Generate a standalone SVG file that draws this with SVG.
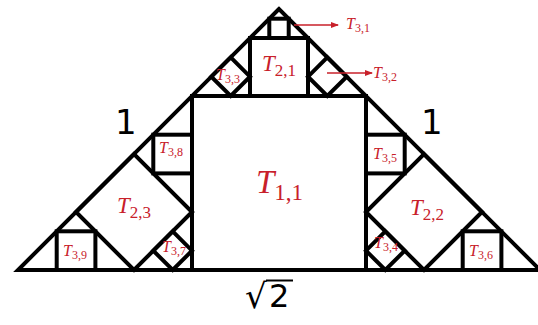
<svg xmlns="http://www.w3.org/2000/svg" width="538" height="325" viewBox="0 0 538 325">
<style>
.sh{fill:none;stroke:#000;stroke-width:4;stroke-linejoin:miter;stroke-miterlimit:10}
.lab{font-family:"Liberation Serif",serif;font-style:italic;fill:#c8202a}
.sub{font-style:normal}
.blk{font-family:"DejaVu Sans",sans-serif;fill:#000}
.arr{stroke:#c8202a;stroke-width:1.6;fill:none}
</style>
<defs>
<marker id="ah" markerWidth="8" markerHeight="8" refX="7" refY="4" orient="auto" markerUnits="userSpaceOnUse">
<path d="M0,1 L8,4 L0,7 Z" fill="#c8202a"/>
</marker>
</defs>
<rect width="538" height="325" fill="#fff"/>
<g id="triangle"><polygon class="sh" points="279,9 18,270 540,270"/></g>
<g id="T11"><rect class="sh" x="192" y="96" width="174" height="174"/>
<text class="lab" x="256" y="193" font-size="33">T<tspan class="sub" font-size="23" dy="7">1,1</tspan></text></g>
<g id="T21"><rect class="sh" x="250" y="38" width="58" height="58"/>
<text class="lab" x="262" y="71" font-size="23">T<tspan class="sub" font-size="17" dy="5">2,1</tspan></text></g>
<g id="T31"><rect class="sh" x="269.3" y="18.7" width="19.4" height="19.3"/></g>
<g id="T33"><polygon class="sh" points="211.3,76.7 230.7,57.3 250,76.7 230.7,96"/>
<text class="lab" x="216" y="80" font-size="16">T<tspan class="sub" font-size="12" dy="3">3,3</tspan></text></g>
<g id="T32"><polygon class="sh" points="346.7,76.7 327.3,57.3 308,76.7 327.3,96"/></g>
<g id="T23"><polygon class="sh" points="76,212 134,154 192,212 134,270"/>
<text class="lab" x="117" y="213" font-size="23">T<tspan class="sub" font-size="17" dy="5">2,3</tspan></text></g>
<g id="T38"><rect class="sh" x="153.3" y="134.7" width="38.7" height="38.7"/>
<text class="lab" x="159" y="153" font-size="16">T<tspan class="sub" font-size="12" dy="3">3,8</tspan></text></g>
<g id="T39"><rect class="sh" x="56.7" y="231.3" width="38.7" height="38.7"/>
<text class="lab" x="63" y="256" font-size="16">T<tspan class="sub" font-size="12" dy="3">3,9</tspan></text></g>
<g id="T37"><polygon class="sh" points="153.3,250.7 172.7,231.3 192,250.7 172.7,270"/>
<text class="lab" x="162" y="252" font-size="16">T<tspan class="sub" font-size="12" dy="3">3,7</tspan></text></g>
<g id="T22"><polygon class="sh" points="482,212 424,154 366,212 424,270"/>
<text class="lab" x="410" y="215" font-size="23">T<tspan class="sub" font-size="17" dy="5">2,2</tspan></text></g>
<g id="T35"><rect class="sh" x="366" y="134.7" width="38.7" height="38.7"/>
<text class="lab" x="373" y="159" font-size="16">T<tspan class="sub" font-size="12" dy="3">3,5</tspan></text></g>
<g id="T36"><rect class="sh" x="462.7" y="231.3" width="38.7" height="38.7"/>
<text class="lab" x="469" y="256" font-size="16">T<tspan class="sub" font-size="12" dy="3">3,6</tspan></text></g>
<g id="T34"><polygon class="sh" points="404.7,250.7 385.3,231.3 366,250.7 385.3,270"/>
<text class="lab" x="374" y="248" font-size="16">T<tspan class="sub" font-size="12" dy="3">3,4</tspan></text></g>
<g id="connectors">
<line class="arr" x1="294" y1="25" x2="338" y2="25" marker-end="url(#ah)"/>
<line class="arr" x1="327" y1="73" x2="372" y2="73" marker-end="url(#ah)"/>
</g>
<g id="labels">
<text class="lab" x="346" y="29" font-size="16">T<tspan class="sub" font-size="12" dy="3">3,1</tspan></text>
<text class="lab" x="373" y="78" font-size="16">T<tspan class="sub" font-size="12" dy="3">3,2</tspan></text>
<text class="blk" x="115" y="134" font-size="34">1</text>
<text class="blk" x="421" y="134" font-size="34">1</text>
<text class="blk" x="245" y="308" font-size="34">√</text>
<line x1="266" y1="280.5" x2="293" y2="280.5" stroke="#000" stroke-width="2"/>
<text class="blk" x="269" y="307" font-size="32">2</text>
</g>
</svg>
